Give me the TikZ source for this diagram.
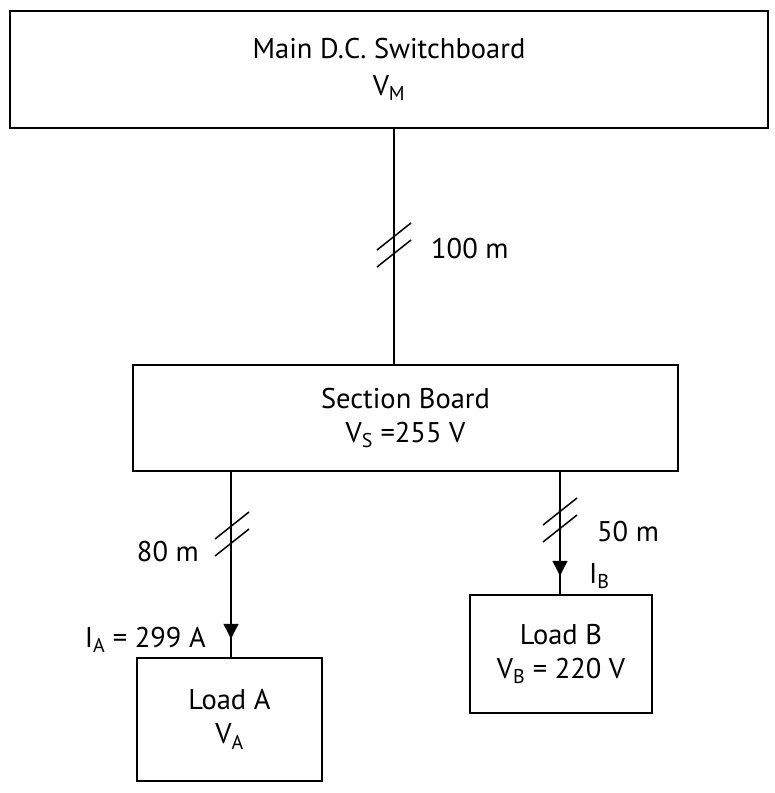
\documentclass[tikz,border=0pt]{standalone}
\usepackage{fontspec}
\setmainfont{PT Sans}
\usetikzlibrary{arrows.meta,decorations.markings}
\begin{document}
\begin{tikzpicture}[x=1pt,y=-1pt,
  box/.style={draw, line width=1.5pt, rectangle, inner sep=0pt, align=center,
    font=\fontsize{28.5}{34}\selectfont},
  wire/.style={line width=1.5pt},
  lbl/.style={inner sep=0pt, font=\fontsize{28.5}{30}\selectfont},
  breakmark/.pic={\draw[line width=1.5pt] (-17,5) -- (17,-22);
                  \draw[line width=1.5pt] (-17,22) -- (17,-5);},
  tipat/.style={postaction={decorate}, decoration={markings,
     mark=at position #1 with {\arrow{Triangle[width=15pt,length=15pt]}}}}
]
\useasboundingbox (0,0) rectangle (775,793);
\node[box, minimum width=758pt, minimum height=117pt, font=\fontsize{28.5}{40}\selectfont] (main) at (389,69.5) {\raisebox{-3pt}{Main D.C. Switchboard}\\V\textsubscript{M}};
\node[box, minimum width=545pt, minimum height=106pt] (sec) at (405.5,418) {Section Board\\V\textsubscript{S} =255 V};
\node[box, minimum width=185pt, minimum height=123pt] (loadA) at (229.5,719.5) {\raisebox{-4pt}{Load A}\\\raisebox{-4pt}{V\textsubscript{A}}};
\node[box, minimum width=182pt, minimum height=118pt] (loadB) at (561,654) {Load B\\V\textsubscript{B} = 220 V};

\coordinate (xm) at (394,0);
\coordinate (xa) at (231,0);
\coordinate (xb) at (560,0);

\draw[wire] (main.south -| xm) -- (sec.north -| xm);
\draw[wire, tipat=167pt] (sec.south -| xa) -- (loadA.north -| xa);
\draw[wire, tipat=104pt] (sec.south -| xb) -- (loadB.north -| xb);

\pic at (394,245) {breakmark};
\pic at (232,534) {breakmark};
\pic at (560,520) {breakmark};

\node[lbl, anchor=base west] (d100) at (431,258) {100 m};
\node[lbl, anchor=base east] (d80) at (199,561) {80 m};
\node[lbl, anchor=base east] (ia) at (206,647) {I\textsubscript{A} = 299 A};
\node[lbl, anchor=base west] (d50) at (597,541) {50 m};
\node[lbl, anchor=base west] (ib) at (589,583) {I\textsubscript{B}};
\end{tikzpicture}
\end{document}
